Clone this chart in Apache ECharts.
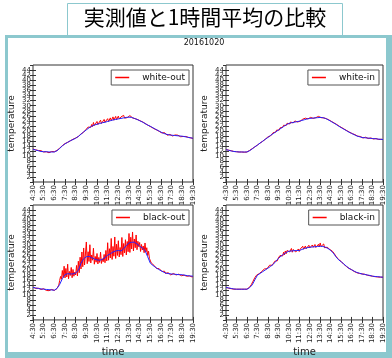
<!DOCTYPE html>
<html><head><meta charset="utf-8">
<script src="https://cdn.jsdelivr.net/npm/echarts@6/dist/echarts.min.js"></script>
<style>html,body{margin:0;padding:0;background:#fff}#c{width:392px;height:358px}</style>
</head><body><div id="c"></div>
<script>
const tickLabels = ['4:30','5:30','6:30','7:30','8:30','9:30','10:30','11:30','12:30','13:30','14:30','15:30','16:30','17:30','18:30','19:30'];
const panelNames = ['white-out','white-in','black-out','black-in'];
const mainTitle = '実測値と1時間平均の比較';
const dateTitle = '20161020';
const redStepMin = 5;   // measured values every 5 min from 4:30
const blueStepMin = 15; // 1-hour mean every 15 min from 4:30

const whiteOutRaw = [
13.0,12.7,12.9,12.6,12.8,12.5,12.4,12.6,12.2,12.3,11.9,12.1,
11.8,12.1,11.6,11.9,12.0,11.7,11.5,11.9,11.7,12.0,11.6,11.8,
11.9,11.7,12.1,12.4,12.6,13.0,13.3,13.6,13.9,14.3,14.5,14.8,
15.1,15.2,15.5,15.6,15.8,16.1,16.2,16.4,16.6,16.8,16.9,17.1,
17.3,17.4,17.7,17.9,18.2,18.3,18.9,19.0,19.5,19.6,20.2,20.1,
20.8,20.4,21.6,21.0,22.3,21.5,22.6,21.8,23.4,22.2,22.9,22.4,
23.8,22.6,23.2,22.9,24.3,23.0,23.5,23.3,24.6,23.5,23.7,23.8,
24.9,23.8,24.2,25.2,24.1,24.7,25.6,24.3,24.6,25.8,24.5,24.9,
25.9,24.8,25.1,25.6,24.9,25.3,26.2,25.1,25.4,25.8,25.3,26.0,
25.7,26.1,25.4,25.6,25.2,25.4,25.0,24.9,24.8,24.6,24.5,24.3,
24.2,24.0,23.8,23.6,23.5,23.3,23.0,22.8,22.6,22.3,22.2,22.0,
21.9,21.6,21.5,21.2,21.0,20.9,20.6,20.5,20.2,20.1,19.9,19.7,
19.8,19.3,19.9,18.9,19.4,18.7,19.0,18.4,18.9,18.3,18.7,18.2,
18.7,18.1,18.6,18.0,18.5,18.2,17.9,18.4,18.0,18.3,17.8,18.2,
18.1,17.9,18.0,17.7,17.9,17.6,17.8,17.5,17.6,17.4,17.3,17.2,
17.1];
const whiteOutAvg = [
12.8,12.6,12.3,12.0, 11.9,11.9,11.8,11.8, 11.8,12.3,13.2,14.2, 15.0,15.6,16.2,16.7,
17.2,17.9,18.8,19.7, 20.5,21.3,21.9,22.4, 22.7,23.0,23.3,23.5, 23.8,24.1,24.4,24.6,
24.8,25.0,25.2,25.4, 25.5,25.4,25.0,24.6, 24.1,23.6,23.0,22.4, 21.9,21.3,20.7,20.2,
19.6,19.1,18.8,18.5, 18.4,18.3,18.2,18.1, 18.0,17.8,17.6,17.4, 17.2];

const whiteInRaw = [
12.8,12.7,12.6,12.5,12.4,12.4,12.3,12.2,12.1,12.0,12.0,11.9,
11.9,11.8,11.9,11.8,11.7,11.8,11.8,11.7,11.8,11.7,11.8,11.8,
11.8,11.9,12.1,12.4,12.6,12.9,13.1,13.3,13.6,13.8,14.1,14.3,
14.5,14.8,15.1,15.3,15.5,15.8,16.0,16.3,16.5,16.8,17.0,17.3,
17.7,17.5,18.4,18.1,18.7,18.6,19.4,19.1,19.8,19.6,20.4,20.0,
20.8,20.4,21.3,21.0,21.6,21.5,22.3,21.8,22.8,22.2,23.1,22.6,
23.4,22.8,23.6,23.0,23.8,23.2,23.5,24.0,23.4,24.1,23.6,23.9,
24.2,23.9,24.5,24.0,24.7,24.4,24.8,25.1,24.6,25.3,24.8,25.3,
25.0,25.4,24.9,25.5,25.0,25.6,25.1,25.3,25.7,25.1,25.8,25.3,
25.7,25.3,25.6,25.2,25.2,25.1,25.0,24.9,24.7,24.5,24.4,24.2,
24.0,23.8,23.6,23.4,23.2,23.0,22.8,22.6,22.4,22.2,21.9,21.7,
21.5,21.3,21.1,20.9,20.7,20.5,20.3,20.1,19.9,19.7,19.5,19.3,
19.2,19.0,18.9,18.6,18.6,18.3,18.3,18.0,18.1,17.8,17.9,17.6,
17.7,17.3,17.7,17.2,17.6,17.1,17.5,17.1,17.4,17.0,17.3,17.0,
17.2,16.9,17.2,16.8,17.1,16.8,17.0,16.7,16.9,16.6,16.8,16.6,
16.7];
const whiteInAvg = [
12.7,12.5,12.2,12.0, 11.9,11.8,11.8,11.8, 11.8,12.3,13.0,13.8, 14.5,15.3,16.0,16.8,
17.5,18.3,19.0,19.7, 20.4,21.1,21.8,22.5, 23.0,23.3,23.5,23.7, 23.9,24.2,24.5,24.8,
25.0,25.1,25.2,25.3, 25.4,25.3,25.0,24.5, 23.9,23.3,22.7,22.0, 21.4,20.8,20.2,19.6,
19.1,18.6,18.1,17.8, 17.5,17.4,17.3,17.2, 17.1,17.0,16.9,16.8, 16.7];

const blackOutRaw = [
13.2,12.8,13.1,12.6,12.9,12.5,12.7,12.3,12.6,12.2,12.4,12.1,
12.5,11.9,12.3,11.8,12.4,12.0,11.7,12.3,11.9,12.2,11.6,12.0,
11.8,12.1,12.0,12.6,13.2,13.9,15.8,17.4,16.3,19.8,17.0,21.5,
16.8,20.6,17.2,22.3,16.5,19.4,17.8,21.0,16.9,20.2,17.5,19.1,
18.0,21.8,17.6,23.5,18.9,25.1,20.4,27.2,21.3,28.8,22.0,26.4,
31.2,22.5,27.3,23.4,30.1,22.8,26.0,23.9,28.7,22.3,25.4,23.1,
26.6,22.4,25.0,23.0,27.1,22.6,24.5,23.3,26.2,22.9,27.8,23.6,
30.9,23.9,28.5,24.8,32.6,24.2,29.4,25.5,33.2,24.6,30.3,25.8,
31.7,25.2,29.0,26.1,33.0,25.4,30.6,26.8,32.1,26.0,31.4,27.3,
34.6,27.0,33.1,28.4,35.2,27.6,32.4,28.9,34.0,28.1,31.5,29.3,
31.0,27.4,30.2,28.0,29.6,26.9,30.8,27.2,28.9,25.8,27.5,24.6,
24.0,22.8,23.2,22.0,21.9,21.3,21.6,20.6,21.0,20.2,20.5,19.8,
20.1,19.4,19.8,18.9,19.5,18.6,19.2,18.4,18.9,18.2,18.8,18.0,
18.7,18.1,18.6,17.9,18.5,18.0,18.4,17.8,18.3,17.9,18.1,17.7,
18.2,17.8,17.9,17.6,17.9,17.5,17.7,17.4,17.6,17.3,17.5,17.2,
17.4];
const blackOutAvg = [
13.0,12.8,12.6,12.4, 12.3,12.2,12.1,12.0, 11.9,12.6,14.2,16.5, 18.2,18.5,18.4,18.4,
18.8,19.8,22.7,24.5, 25.3,25.4,24.9,24.4, 24.0,23.9,24.2,25.0, 25.9,26.5,27.2,27.6,
27.8,27.6,28.5,29.8, 30.8,31.1,31.1,30.4, 29.5,28.8,27.8,25.3, 22.7,21.8,21.0,20.3,
19.7,19.1,18.7,18.5, 18.4,18.3,18.2,18.1, 18.1,17.9,17.7,17.6, 17.5];

const blackInRaw = [
13.1,12.9,12.9,12.7,12.7,12.6,12.5,12.4,12.5,12.3,12.4,12.3,
12.3,12.2,12.3,12.3,12.2,12.4,12.3,12.2,12.3,12.3,12.2,12.3,
12.3,12.5,12.8,13.1,13.6,14.1,14.8,15.5,16.3,16.9,17.4,17.9,
18.0,18.3,18.5,19.2,19.1,19.4,19.7,19.8,20.4,20.1,20.6,20.5,
21.2,20.8,21.9,21.3,22.1,21.9,22.6,22.4,23.5,23.0,24.1,23.7,
24.8,24.4,25.8,25.1,26.2,25.6,27.1,26.0,27.6,26.5,27.8,27.0,
28.3,27.2,27.9,28.6,27.1,28.2,27.4,28.5,27.2,28.0,27.5,28.4,
27.4,28.3,28.9,27.9,29.5,28.3,28.8,29.6,28.5,29.3,28.7,29.9,
28.8,29.6,29.0,30.0,29.1,29.4,30.2,29.0,29.8,29.3,30.3,29.2,
30.8,29.4,29.9,29.2,30.4,28.9,29.6,28.7,29.1,28.4,28.6,28.2,
28.1,27.4,27.5,26.8,26.6,25.9,25.5,25.0,24.7,24.2,24.0,23.7,
23.4,23.0,22.7,22.3,22.0,21.7,21.4,21.1,20.9,20.6,20.4,20.2,
20.1,19.8,19.6,19.4,19.2,19.0,18.9,18.8,18.7,18.6,18.4,18.5,
18.4,18.3,18.2,18.3,18.0,18.1,17.9,17.8,17.9,17.7,17.6,17.7,
17.5,17.4,17.5,17.3,17.4,17.3,17.2,17.3,17.2,17.1,17.2,17.1,
17.1];
const blackInAvg = [
13.0,12.8,12.6,12.4, 12.3,12.3,12.3,12.3, 12.3,12.9,14.0,16.0, 17.9,18.6,19.3,20.0,
20.7,21.4,22.2,23.4, 24.6,25.5,26.3,27.0, 27.5,27.6,27.7,27.8, 27.8,28.2,28.6,28.9,
29.1,29.2,29.3,29.4, 29.5,29.4,29.1,28.6, 27.8,26.8,25.3,24.1, 23.3,22.4,21.5,20.7,
20.1,19.5,19.0,18.7, 18.4,18.2,18.0,17.8, 17.5,17.4,17.3,17.2, 17.1];

const rawSets = [whiteOutRaw, whiteInRaw, blackOutRaw, blackInRaw];
const avgSets = [whiteOutAvg, whiteInAvg, blackOutAvg, blackInAvg];

const grids = [
  {left: 33, top: 65, width: 160, height: 117},
  {left: 226, top: 65, width: 157, height: 117},
  {left: 33, top: 205, width: 160, height: 118},
  {left: 226, top: 205, width: 157, height: 118}
];
const FONT = 'DejaVu Sans';
const frameColor = '#333';
const xAxes = [], yAxes = [], series = [], legends = [];
grids.forEach((g, i) => {
  g.show = true; g.borderColor = frameColor; g.borderWidth = 1; g.containLabel = false;
  const isBottom = i >= 2;
  xAxes.push({
    type: 'value', gridIndex: i, min: 0, max: 900, interval: 60, position: 'bottom',
    axisLine: {show: false}, splitLine: {show: false},
    axisTick: {show: true, inside: true, length: 3, lineStyle: {color: frameColor}},
    axisLabel: {rotate: 90, fontSize: 7, color: '#222', fontFamily: FONT, margin: 3,
      formatter: v => tickLabels[Math.round(v / 60)]},
    name: isBottom ? 'time' : '', nameLocation: 'middle', nameGap: 25,
    nameTextStyle: {fontSize: 10, color: '#222', fontFamily: FONT}
  });
  xAxes.push({
    type: 'value', gridIndex: i, min: 0, max: 900, interval: 60, position: 'top',
    axisLine: {show: false}, splitLine: {show: false}, axisLabel: {show: false},
    axisTick: {show: true, inside: true, length: 3, lineStyle: {color: frameColor}}
  });
  yAxes.push({
    type: 'value', gridIndex: i, min: 0, max: 46, interval: 2, position: 'left',
    axisLine: {show: false}, splitLine: {show: false},
    axisTick: {show: true, inside: true, length: 3, lineStyle: {color: frameColor}},
    axisLabel: {fontSize: 7, color: '#222', fontFamily: FONT, margin: 2},
    name: 'temperature', nameLocation: 'middle', nameGap: 17, nameRotate: 90,
    nameTextStyle: {fontSize: 9, color: '#222', fontFamily: FONT}
  });
  yAxes.push({
    type: 'value', gridIndex: i, min: 0, max: 46, interval: 2, position: 'right',
    axisLine: {show: false}, splitLine: {show: false}, axisLabel: {show: false},
    axisTick: {show: true, inside: true, length: 3, lineStyle: {color: frameColor}}
  });
  series.push({
    type: 'line', name: panelNames[i], xAxisIndex: 2 * i, yAxisIndex: 2 * i,
    data: rawSets[i].map((v, k) => [k * redStepMin, v]),
    showSymbol: false, symbol: 'none', lineStyle: {color: '#ff0000', width: 1},
    itemStyle: {color: '#ff0000'}, z: 2
  });
  series.push({
    type: 'line', name: panelNames[i] + ' 1h', xAxisIndex: 2 * i, yAxisIndex: 2 * i,
    data: avgSets[i].map((v, k) => [k * blueStepMin, v]),
    showSymbol: false, symbol: 'none', lineStyle: {color: '#2222ff', width: 1},
    itemStyle: {color: '#2222ff'}, z: 3
  });
  legends.push({
    data: [{name: panelNames[i], icon: 'rect'}],
    right: 392 - (g.left + g.width) + 4, top: g.top + 5,
    orient: 'vertical', itemWidth: 14, itemHeight: 1.5, itemGap: 0,
    padding: [3, 4, 3, 4], borderColor: '#555', borderWidth: 1,
    textStyle: {fontSize: 9, color: '#111', fontFamily: FONT, padding: [0, 0, 0, 8]},
    selectedMode: false
  });
});

const chart = echarts.init(document.getElementById('c'), null, {renderer: 'canvas'});
chart.setOption({
  animation: false,
  backgroundColor: '#fff',
  graphic: [
    {type: 'rect', z: -20, shape: {x: 67.5, y: 3.5, width: 275, height: 33},
      style: {fill: '#fff', stroke: '#8cc8ce', lineWidth: 1}},
    {type: 'text', z: -5, x: 205, y: 17,
      style: {text: mainTitle, font: '21px "Noto Sans CJK JP"', fill: '#000', textAlign: 'center', textVerticalAlign: 'middle'}},
    {type: 'rect', z: -15, shape: {x: 5, y: 35, width: 387, height: 323}, style: {fill: '#8cc8ce'}},
    {type: 'rect', z: -14, shape: {x: 8, y: 38, width: 378, height: 314}, style: {fill: '#fff'}},
    {type: 'text', z: -5, x: 204, y: 43,
      style: {text: dateTitle, font: '8px "DejaVu Sans"', fill: '#111', textAlign: 'center', textVerticalAlign: 'middle'}}
  ],
  grid: grids,
  xAxis: xAxes,
  yAxis: yAxes,
  legend: legends,
  series: series
});
</script>
</body></html>
